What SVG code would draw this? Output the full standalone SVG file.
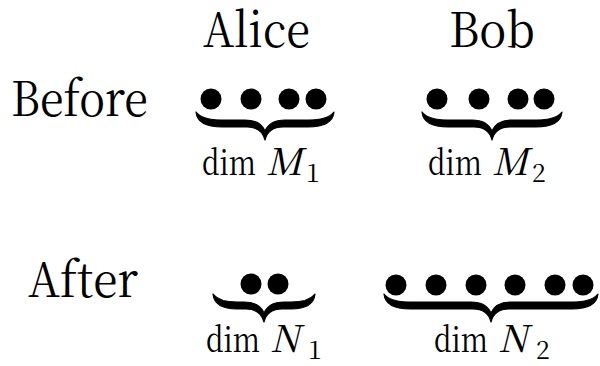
<svg xmlns="http://www.w3.org/2000/svg" width="600" height="366" viewBox="0 0 600 366">
<style>
.big{font-size:48px;fill:#000}
.lbl{font-size:34px;fill:#000}
.it{font-style:italic;font-size:37px}
.sub{font-size:25px;font-style:normal}
.dot{fill:#000}
.brace{fill:#000;stroke:#000;stroke-width:1.2;stroke-linejoin:round}
</style>
<rect width="600" height="366" fill="#fff"/>
<g id="label-alice"><text class="big" x="203" y="47" textLength="107" lengthAdjust="spacingAndGlyphs" font-family="Noto Serif CJK SC, DejaVu Serif, serif">Alice</text></g>
<g id="label-bob"><text class="big" x="449" y="47" textLength="86" lengthAdjust="spacingAndGlyphs" font-family="Noto Serif CJK SC, DejaVu Serif, serif">Bob</text></g>
<g id="label-before"><text class="big" x="11" y="116" textLength="137" lengthAdjust="spacingAndGlyphs" font-family="Noto Serif CJK SC, DejaVu Serif, serif">Before</text></g>
<g id="label-after"><text class="big" x="28" y="297" textLength="110" lengthAdjust="spacingAndGlyphs" font-family="Noto Serif CJK SC, DejaVu Serif, serif">After</text></g>

<g id="alice-before">
<circle class="dot" cx="211" cy="99" r="10.5"/><circle class="dot" cx="251" cy="99" r="10.5"/><circle class="dot" cx="289" cy="99" r="10.5"/><circle class="dot" cx="316" cy="99" r="10.5"/>
<path class="brace" transform="translate(265,112)" d="M -69,0 C -68,10 -59,15 -43,15 L -18,15 C -8,15 -2,20 0,28 C 2,20 8,15 18,15 L 43,15 C 59,15 68,10 69,0 C 65,5 57,8 43,8 L 20,8 C 9,8 3,12 0,19 C -3,12 -9,8 -20,8 L -43,8 C -57,8 -65,5 -69,0 Z"/>
<text class="lbl" y="175" font-family="Noto Serif CJK SC, DejaVu Serif, serif"><tspan x="202" textLength="54" lengthAdjust="spacingAndGlyphs">dim</tspan><tspan class="it" x="266">M</tspan><tspan class="sub" x="306" dy="7">1</tspan></text>
</g>

<g id="bob-before">
<circle class="dot" cx="437" cy="99" r="10.5"/><circle class="dot" cx="479" cy="99" r="10.5"/><circle class="dot" cx="518" cy="99" r="10.5"/><circle class="dot" cx="544" cy="99" r="10.5"/>
<path class="brace" transform="translate(492,112)" d="M -70,0 C -69,10 -60,15 -44,15 L -18,15 C -8,15 -2,20 0,28 C 2,20 8,15 18,15 L 44,15 C 60,15 69,10 70,0 C 66,5 58,8 44,8 L 20,8 C 9,8 3,12 0,19 C -3,12 -9,8 -20,8 L -44,8 C -58,8 -66,5 -70,0 Z"/>
<text class="lbl" y="175" font-family="Noto Serif CJK SC, DejaVu Serif, serif"><tspan x="428" textLength="54" lengthAdjust="spacingAndGlyphs">dim</tspan><tspan class="it" x="492">M</tspan><tspan class="sub" x="532" dy="7">2</tspan></text>
</g>

<g id="alice-after">
<circle class="dot" cx="251" cy="284" r="10.5"/><circle class="dot" cx="278" cy="284" r="10.5"/>
<path class="brace" transform="translate(264,294)" d="M -51,0 C -50,10 -41,15 -27,15 L -18,15 C -8,15 -2,20 0,28 C 2,20 8,15 18,15 L 27,15 C 41,15 50,10 51,0 C 47,5 39,8 27,8 L 20,8 C 9,8 3,12 0,19 C -3,12 -9,8 -20,8 L -27,8 C -39,8 -47,5 -51,0 Z"/>
<text class="lbl" y="352" font-family="Noto Serif CJK SC, DejaVu Serif, serif"><tspan x="206" textLength="54" lengthAdjust="spacingAndGlyphs">dim</tspan><tspan class="it" x="270">N</tspan><tspan class="sub" x="308" dy="7">1</tspan></text>
</g>

<g id="bob-after">
<circle class="dot" cx="396" cy="285" r="10.5"/><circle class="dot" cx="436" cy="285" r="10.5"/><circle class="dot" cx="476" cy="285" r="10.5"/><circle class="dot" cx="515" cy="285" r="10.5"/><circle class="dot" cx="555" cy="285" r="10.5"/><circle class="dot" cx="583" cy="285" r="10.5"/>
<path class="brace" transform="translate(491,294)" d="M -107,0 C -106,10 -97,15 -81,15 L -18,15 C -8,15 -2,20 0,28 C 2,20 8,15 18,15 L 81,15 C 97,15 106,10 107,0 C 103,5 95,8 81,8 L 20,8 C 9,8 3,12 0,19 C -3,12 -9,8 -20,8 L -81,8 C -95,8 -103,5 -107,0 Z"/>
<text class="lbl" y="352" font-family="Noto Serif CJK SC, DejaVu Serif, serif"><tspan x="434" textLength="54" lengthAdjust="spacingAndGlyphs">dim</tspan><tspan class="it" x="498">N</tspan><tspan class="sub" x="536" dy="7">2</tspan></text>
</g>
</svg>
